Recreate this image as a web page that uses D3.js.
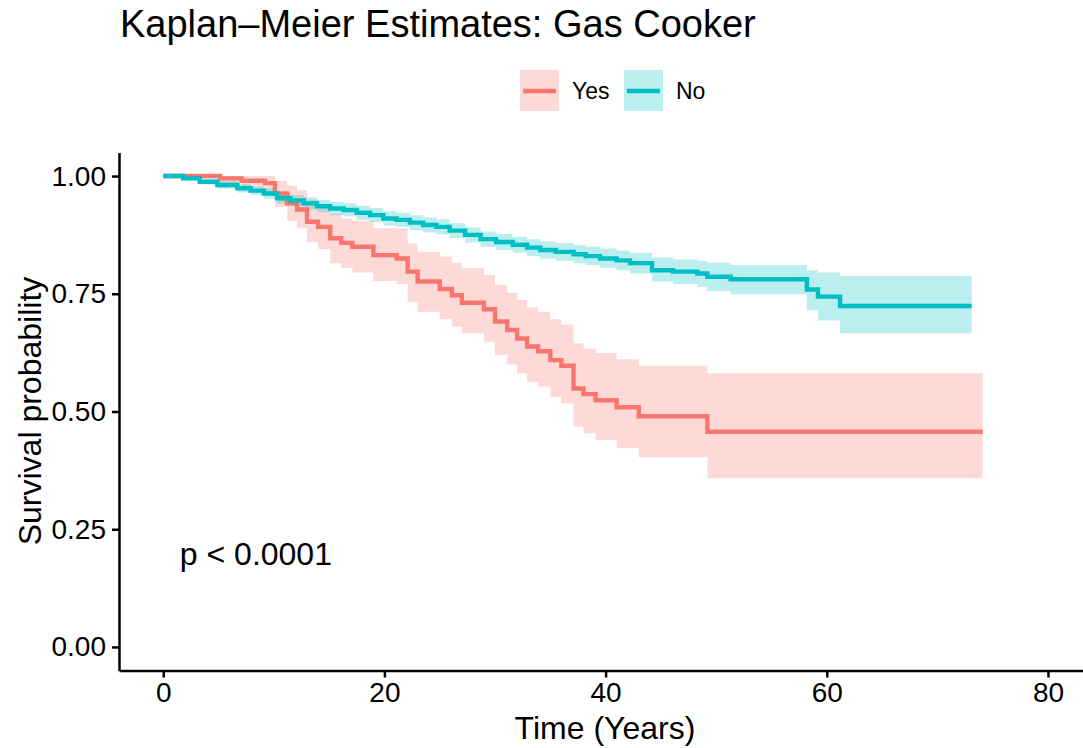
<!DOCTYPE html>
<html>
<head>
<meta charset="utf-8">
<script src="https://cdn.jsdelivr.net/npm/d3@7"></script>
<style>
  body { margin: 0; background: #fff; }
  text { font-family: "Liberation Sans", Arial, sans-serif; fill: #000; }
</style>
</head>
<body>
<svg id="canvas"></svg>
<script>
// Kaplan-Meier steps, "Yes" group (gas cooker)
let yesTime = [0, 5.15, 7.1, 9.2, 10.1, 11.2, 12.1, 13.0, 14.0, 15.1, 16.1, 17.1, 19.0, 21.1, 22.1, 23.0, 25.0, 26.1, 27.0, 29.0, 30.0, 31.1, 32.0, 32.9, 33.9, 35.0, 36.0, 37.1, 38.0, 39.1, 41.0, 43.0, 49.2];
let yesSurv = [1, 0.995, 0.990, 0.985, 0.963, 0.942, 0.929, 0.903, 0.892, 0.868, 0.858, 0.850, 0.832, 0.825, 0.797, 0.776, 0.760, 0.747, 0.731, 0.717, 0.691, 0.673, 0.655, 0.638, 0.628, 0.609, 0.597, 0.549, 0.537, 0.524, 0.509, 0.490, 0.457];
let yesLower = [1, 0.985, 0.975, 0.965, 0.935, 0.905, 0.890, 0.860, 0.845, 0.815, 0.805, 0.795, 0.777, 0.770, 0.733, 0.712, 0.696, 0.680, 0.666, 0.648, 0.620, 0.600, 0.581, 0.563, 0.553, 0.531, 0.517, 0.468, 0.454, 0.439, 0.422, 0.403, 0.358];
let yesUpper = [1, 1, 1, 1, 0.990, 0.980, 0.970, 0.950, 0.940, 0.920, 0.910, 0.905, 0.889, 0.889, 0.857, 0.839, 0.829, 0.816, 0.804, 0.790, 0.769, 0.752, 0.737, 0.721, 0.712, 0.696, 0.685, 0.645, 0.634, 0.624, 0.611, 0.597, 0.581];
let yesEnd = 74.1;

// "No" group
let noTime = [0, 1.8, 3.3, 4.9, 6.7, 7.9, 9.1, 10.3, 11.5, 12.7, 13.9, 15.1, 16.3, 17.5, 18.7, 19.9, 21.1, 22.3, 23.5, 24.7, 25.9, 27.3, 28.7, 30.1, 31.6, 32.9, 34.1, 35.5, 37.1, 38.2, 39.5, 41.0, 42.2, 44.2, 46.1, 48.3, 49.2, 51.3, 58.2, 59.2, 61.2];
let noSurv = [1, 0.995, 0.988, 0.981, 0.974, 0.969, 0.963, 0.953, 0.948, 0.942, 0.936, 0.931, 0.928, 0.922, 0.917, 0.910, 0.907, 0.901, 0.896, 0.892, 0.884, 0.875, 0.866, 0.860, 0.854, 0.848, 0.843, 0.839, 0.834, 0.830, 0.825, 0.821, 0.815, 0.800, 0.797, 0.793, 0.786, 0.781, 0.759, 0.744, 0.724];
let noUpper = [1, 0.998, 0.994, 0.989, 0.983, 0.978, 0.974, 0.965, 0.960, 0.955, 0.949, 0.945, 0.942, 0.937, 0.932, 0.925, 0.922, 0.917, 0.912, 0.908, 0.900, 0.891, 0.882, 0.877, 0.871, 0.866, 0.861, 0.858, 0.853, 0.850, 0.846, 0.842, 0.837, 0.827, 0.823, 0.820, 0.816, 0.811, 0.800, 0.795, 0.788];
let noLower = [1, 0.992, 0.982, 0.973, 0.965, 0.960, 0.952, 0.941, 0.936, 0.929, 0.923, 0.917, 0.914, 0.907, 0.902, 0.895, 0.892, 0.885, 0.880, 0.876, 0.868, 0.859, 0.850, 0.843, 0.837, 0.830, 0.825, 0.820, 0.815, 0.811, 0.805, 0.800, 0.793, 0.776, 0.771, 0.765, 0.756, 0.749, 0.715, 0.693, 0.666];
let noEnd = 73.1;

let xTicks = [0, 20, 40, 60, 80];
let yTicks = [0, 0.25, 0.5, 0.75, 1];

let width = 1083;
let height = 748;

let canvas = d3.select("#canvas")
    .attr("width", width)
    .attr("height", height);

let xScale = d3.scaleLinear().domain([-4, 84]).range([119, 1092.2]);
let yScale = d3.scaleLinear().domain([-0.05, 1.05]).range([670.5, 152.5]);

let makeRows = (t, s, lo, hi, end) => {
    let rows = t.map((d, i) => ({t: d, s: s[i], lo: lo[i], hi: hi[i]}));
    let last = rows[rows.length - 1];
    rows.push({t: end, s: last.s, lo: last.lo, hi: last.hi});
    return rows;
};

let groups = [
    {name: "Yes", line: "#F8766D", fill: "#F8766D", rows: makeRows(yesTime, yesSurv, yesLower, yesUpper, yesEnd)},
    {name: "No", line: "#00BFC4", fill: "#00BFC4", rows: makeRows(noTime, noSurv, noLower, noUpper, noEnd)}
];

let area = d3.area()
    .x(d => xScale(d.t))
    .y0(d => yScale(d.lo))
    .y1(d => yScale(d.hi))
    .curve(d3.curveStepAfter);

let line = d3.line()
    .x(d => xScale(d.t))
    .y(d => yScale(d.s))
    .curve(d3.curveStepAfter);

// bands first, then lines (No drawn over Yes as in the picture)
groups.forEach(g => {
    canvas.append("path")
        .attr("d", area(g.rows))
        .attr("fill", g.fill)
        .attr("fill-opacity", 0.27)
        .attr("stroke", "none");
});
groups.forEach(g => {
    canvas.append("path")
        .attr("d", line(g.rows))
        .attr("fill", "none")
        .attr("stroke", g.line)
        .attr("stroke-width", 4.4);
});

// axes
let xAxis = d3.axisBottom(xScale).tickValues(xTicks).tickSize(7).tickSizeOuter(0).tickPadding(5);
let gx = canvas.append("g")
    .attr("transform", "translate(0," + yScale(-0.05) + ")")
    .call(xAxis);

let yAxis = d3.axisLeft(yScale).tickValues(yTicks).tickSize(7).tickSizeOuter(0).tickPadding(6)
    .tickFormat(d3.format(".2f"));
let gy = canvas.append("g")
    .attr("transform", "translate(" + xScale(-4) + ",0)")
    .call(yAxis);

[gx, gy].forEach(g => {
    g.select(".domain").attr("stroke", "#000").attr("stroke-width", 2.5);
    g.selectAll(".tick line").attr("stroke", "#000").attr("stroke-width", 2.5);
    g.selectAll(".tick text").attr("font-size", 28).attr("font-family", "Liberation Sans, Arial, sans-serif").attr("fill", "#000");
});

// titles
canvas.append("text")
    .attr("x", 120)
    .attr("y", 37)
    .attr("font-size", 38)
    .text("Kaplan\u2013Meier Estimates: Gas Cooker");

canvas.append("text")
    .attr("x", 605)
    .attr("y", 739)
    .attr("text-anchor", "middle")
    .attr("font-size", 32)
    .text("Time (Years)");

canvas.append("text")
    .attr("transform", "translate(41,411) rotate(-90)")
    .attr("text-anchor", "middle")
    .attr("font-size", 32)
    .text("Survival probability");

canvas.append("text")
    .attr("x", xScale(1.5))
    .attr("y", yScale(0.174))
    .attr("font-size", 32)
    .text("p < 0.0001");

// legend
let legend = canvas.append("g").attr("transform", "translate(520,70)");
let legendX = [0, 104];
groups.forEach((g, i) => {
    let item = legend.append("g").attr("transform", "translate(" + legendX[i] + ",0)");
    item.append("rect")
        .attr("width", 39).attr("height", 41)
        .attr("fill", g.fill).attr("fill-opacity", 0.27);
    item.append("line")
        .attr("x1", 3).attr("x2", 36)
        .attr("y1", 21).attr("y2", 21)
        .attr("stroke", g.line).attr("stroke-width", 4.4);
    item.append("text")
        .attr("x", 52).attr("y", 29)
        .attr("font-size", 23)
        .text(g.name);
});
</script>
</body>
</html>
